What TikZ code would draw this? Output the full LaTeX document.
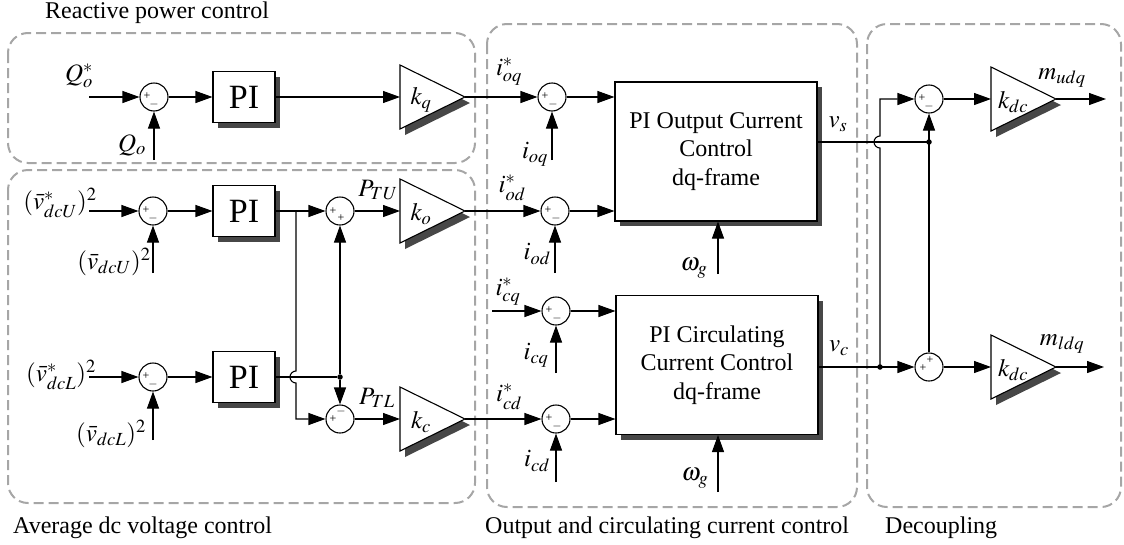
\documentclass[tikz,border=0pt]{standalone}
\usepackage{mathptmx}
\usepackage{fontspec}
\setmainfont{Liberation Serif}
\usetikzlibrary{arrows.meta,calc,shadows}
\tikzset{
 grp/.style={draw=black!35, line width=2pt, dash pattern=on 10pt off 5pt, rounded corners=20pt},
 wire/.style={line width=1.1pt},
 arr/.style={wire, -{Triangle[length=17pt,width=12pt]}},
 sumnode/.style={circle, draw, line width=1.1pt, minimum size=28pt, inner sep=0pt, fill=white},
 shadowed/.style={drop shadow={shadow xshift=5pt,shadow yshift=-5pt,opacity=1,fill=black!72}},
 piblk/.style={draw, line width=1.1pt, fill=white, inner sep=0pt, minimum width=62pt, minimum height=51pt, font=\fontsize{34}{36}\selectfont, shadowed},
 bigblk/.style={draw, line width=1.1pt, fill=white, inner sep=0pt, minimum width=202pt, minimum height=139pt, align=center, font=\fontsize{24}{28.5}\selectfont, shadowed},
 sgn/.style={inner sep=0pt, font=\fontsize{12}{12}\selectfont},
 lbl/.style={inner sep=0pt, font=\fontsize{25}{27}\selectfont},
 capt/.style={inner sep=0pt, anchor=base west, font=\fontsize{24}{26}\selectfont},
 dotn/.style={circle, fill, inner sep=0pt, minimum size=5.5pt},
 gainpic/.pic={
   \fill[black!72] (5,-26) -- (70,6) -- (5,38) -- cycle;
   \draw[wire,fill=white] (0,-32) -- (65,0) -- (0,32) -- cycle;
   \coordinate (-in) at (0,0);
   \coordinate (-out) at (65,0);
 },
}
\begin{document}
\begin{tikzpicture}[x=1pt,y=-1pt]
\useasboundingbox (0,0) rectangle (1124,544);

% group frames
\draw[grp] (8,33) rectangle (475,163);
\draw[grp] (8,170) rectangle (475,503);
\draw[grp] (487,24) rectangle (857,507);
\draw[grp] (867,24) rectangle (1121,507);

\node[capt] (c1) at (45,18) {Reactive power control};
\node[capt] (c2) at (13,533) {Average dc voltage control};
\node[capt] (c3) at (485,533) {Output and circulating current control};
\node[capt] (c4) at (885,533) {Decoupling};

% ---------- row 1: reactive power
\node[lbl] (Qref) at (79,76) {$Q_o^{*}$};
\coordinate (Qin) at (89,97);
\node[sumnode] (s1) at (154,97) {};
\node[sgn] (s1a) at (147,96) {+};
\node[sgn] (s1b) at (154,104) {$-$};
\node[lbl] (Qo) at (132,145) {$Q_o$};
\coordinate (Qob) at (154,160);
\node[piblk] (p1) at (244,97) {PI};
\pic (kq) at (400,97) {gainpic};
\node[lbl] (kql) at (421,100) {$k_q$};

% ---------- row 2: upper arm
\node[lbl] (vUref) at (60,203) {$(\bar{v}^{*}_{dcU})^{2}$};
\coordinate (vUin) at (89,211);
\node[sumnode] (s2) at (153,211) {};
\node[sgn] (s2a) at (146,210) {+};
\node[sgn] (s2b) at (153,218) {$-$};
\node[lbl] (vU) at (114,262) {$(\bar{v}_{dcU})^{2}$};
\coordinate (vUb) at (153,273);
\node[piblk] (p2) at (244,211) {PI};
\coordinate (j1) at (296,211);
\node[sumnode] (s4) at (340,211) {};
\node[sgn] (s4a) at (333,211) {+};
\node[sgn] (s4b) at (341,218) {+};
\node[lbl] (PTU) at (378,190) {$P_{TU}$};
\pic (ko) at (400,211) {gainpic};
\node[lbl] (kol) at (421,214) {$k_o$};

% ---------- row 3: lower arm
\node[lbl] (vLref) at (61,375) {$(\bar{v}^{*}_{dcL})^{2}$};
\coordinate (vLin) at (89,377);
\node[sumnode] (s3) at (153,377) {};
\node[sgn] (s3a) at (146,376) {+};
\node[sgn] (s3b) at (153,384) {$-$};
\node[lbl] (vL) at (111,434) {$(\bar{v}_{dcL})^{2}$};
\coordinate (vLb) at (153,440);
\node[piblk] (p3) at (244,377) {PI};
\node[dotn] (d1) at (340,377) {};
\node[sumnode] (s5) at (340,419) {};
\node[sgn] (s5a) at (333,419) {+};
\node[sgn] (s5b) at (341,411) {$-$};
\node[lbl] (PTL) at (377,398) {$P_{TL}$};
\pic (kc) at (400,419) {gainpic};
\node[lbl] (kcl) at (421,422) {$k_c$};

% ---------- output current control
\node[sumnode] (soq) at (552,97) {};
\node[sgn] (soqa) at (545,96) {+};
\node[sgn] (soqb) at (553,104) {$-$};
\node[lbl] (ioqr) at (509,72) {$i_{oq}^{*}$};
\node[lbl] (ioq) at (535,154) {$i_{oq}$};
\coordinate (ioqb) at (552,160);
\node[sumnode] (sod) at (555,211) {};
\node[sgn] (soda) at (548,210) {+};
\node[sgn] (sodb) at (556,218) {$-$};
\node[lbl] (iodr) at (512,188) {$i_{od}^{*}$};
\node[lbl] (iod) at (537,254) {$i_{od}$};
\coordinate (iodb) at (555,273);
\node[bigblk] (B1) at (716,151.5) {PI Output Current\\Control\\dq-frame};
\node[lbl] (wg1) at (694,268) {$\omega_g$};
\coordinate (wg1b) at (718,274);
\node[lbl] (vs) at (838,124) {$v_s$};

% ---------- circulating current control
\node[sumnode] (scq) at (556,311) {};
\node[sgn] (scqa) at (549,310) {+};
\node[sgn] (scqb) at (557,318) {$-$};
\node[lbl] (icqr) at (508,292) {$i_{cq}^{*}$};
\coordinate (icqin) at (492,311);
\node[lbl] (icq) at (536,355) {$i_{cq}$};
\coordinate (icqb) at (556,373);
\node[sumnode] (scd) at (556,419) {};
\node[sgn] (scda) at (549,418) {+};
\node[sgn] (scdb) at (557,426) {$-$};
\node[lbl] (icdr) at (509,397) {$i_{cd}^{*}$};
\node[lbl] (icd) at (537,461) {$i_{cd}$};
\coordinate (icdb) at (556,482);
\node[bigblk] (B2) at (717,365) {PI Circulating\\Current Control\\dq-frame};
\node[lbl] (wg2) at (695,478) {$\omega_g$};
\coordinate (wg2b) at (718,492);
\node[lbl] (vc) at (839,348) {$v_c$};

% ---------- decoupling
\coordinate (vsdot) at (929,142);
\coordinate (vcdot) at (880,367);
\node[sumnode] (su) at (929,99) {};
\node[sgn] (sua) at (922,98) {+};
\node[sgn] (sub) at (929,106) {$-$};
\node[sumnode] (sl) at (929,367) {};
\node[sgn] (sla) at (923,368) {+};
\node[sgn] (slb) at (930,360) {+};
\pic (kd1) at (991,99) {gainpic};
\node[lbl] (kd1l) at (1013,102) {$k_{dc}$};
\pic (kd2) at (991,367) {gainpic};
\node[lbl] (kd2l) at (1013,370) {$k_{dc}$};
\coordinate (mu) at (1106,99);
\coordinate (ml) at (1104,367);
\node[lbl] (mul) at (1062,78) {$m_{udq}$};
\node[lbl] (mll) at (1062,344) {$m_{ldq}$};

% ---------- connectors
\draw[arr] (Qin) -- (s1);
\draw[arr] (Qob) -- (s1);
\draw[arr] (s1) -- (p1);
\draw[arr] (p1) -- (kq-in);
\draw[arr] (kq-out) -- (soq);

\draw[arr] (vUin) -- (s2);
\draw[arr] (vUb) -- (s2);
\draw[arr] (s2) -- (p2);
\draw[wire] (p2.east) -- (j1);
\draw[arr] (j1) -- (s4);
\draw[arr] (s4) -- (ko-in);
\draw[arr] (ko-out) -- (sod);

\draw[arr] (vLin) -- (s3);
\draw[arr] (vLb) -- (s3);
\draw[arr] (s3) -- (p3);
\draw[wire] (p3.east) -- (d1);
\draw[arr] (d1) -- (s4);
\draw[arr] (d1) -- (s5);
\draw[arr] (j1) -- (296,371) arc[start angle=270, end angle=90, radius=6] -- (296,419) -- (s5);
\draw[arr] (s5) -- (kc-in);
\draw[arr] (kc-out) -- (scd);

\draw[arr] (ioqb) -- (soq);
\draw[arr] (soq) -- (soq -| B1.west);
\draw[arr] (iodb) -- (sod);
\draw[arr] (sod) -- (sod -| B1.west);
\draw[arr] (wg1b) -- (wg1b |- B1.south);

\draw[arr] (icqin) -- (scq);
\draw[arr] (icqb) -- (scq);
\draw[arr] (scq) -- (scq -| B2.west);
\draw[arr] (icdb) -- (scd);
\draw[arr] (scd) -- (scd -| B2.west);
\draw[arr] (wg2b) -- (wg2b |- B2.south);

\draw[wire] (vsdot -| B1.east) -- (vsdot);
\draw[wire] (vcdot -| B2.east) -- (vcdot);
\node[dotn] (d2) at (vsdot) {};
\node[dotn] (d3) at (vcdot) {};
\draw[arr] (vcdot) -- (sl);
\draw[arr] (vcdot) -- (880,148) arc[start angle=90, end angle=270, radius=6] -- (880,99) -- (su);
\draw[arr] (vsdot) -- (su);
\draw[wire] (vsdot) -- (sl);
\draw[arr] (su) -- (kd1-in);
\draw[arr] (sl) -- (kd2-in);
\draw[arr] (kd1-out) -- (mu);
\draw[arr] (kd2-out) -- (ml);
\end{tikzpicture}
\end{document}
